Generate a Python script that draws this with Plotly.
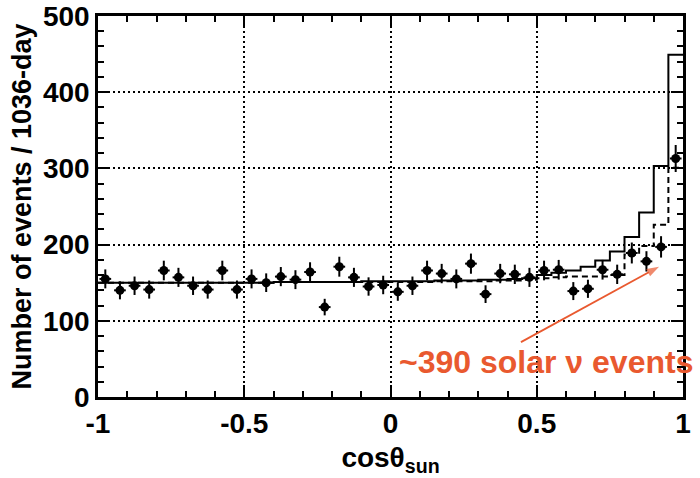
import numpy as np
import plotly.graph_objects as go

# Bin layout: 40 bins of cos(theta_sun) from -1 to 1
bin_edges = np.linspace(-1.0, 1.0, 41)
bin_centers = 0.5 * (bin_edges[:-1] + bin_edges[1:])

# Observed events per bin (points)
counts = [155, 140, 146, 141, 166, 157, 146, 141, 166, 141,
          155, 150, 158, 154, 164, 118, 171, 157, 145, 147,
          138, 146, 166, 162, 155, 175, 135, 162, 161, 157,
          166, 167, 139, 142, 167, 161, 189, 178, 197, 313]

# Expectation: background + solar (solid histogram)
solid_hist = [150, 150, 150, 150, 150, 150, 150, 150, 150, 150,
              150, 150, 151, 151, 151, 151, 151, 151, 152, 152,
              152, 152, 152, 153, 153, 153, 154, 154, 155, 156,
              160, 163, 166, 171, 179, 191, 210, 242, 303, 449]

# Alternative expectation (dashed histogram)
dashed_hist = [150, 150, 150, 150, 150, 150, 150, 150, 150, 150,
               150, 150, 151, 151, 151, 151, 151, 151, 151, 151,
               151, 151, 151, 152, 152, 152, 152, 153, 153, 154,
               156, 157, 158, 158, 158, 160, 187, 198, 226, 301]

x_ticks = [-1, -0.5, 0, 0.5, 1]
x_ticktext = ["-1", "-0.5", "0", "0.5", "1"]
y_ticks = [0, 100, 200, 300, 400, 500]
y_ticktext = ["0", "100", "200", "300", "400", "500"]

# Arrow (tail -> head) and label
arrow_x = [0.446, 0.918]
arrow_y = [72, 171]
annot_text = "~390 solar ν events"
annot_pos = (0.022, 46)

accent = "#E9592F"
font_family = "Liberation Sans, Arial, sans-serif"

errs = np.sqrt(np.array(counts, dtype=float))

fig = go.Figure()

fig.add_trace(go.Scatter(
    x=bin_edges, y=dashed_hist + [dashed_hist[-1]],
    mode="lines", line=dict(color="black", width=2, dash="6px,4px", shape="hv"),
    hoverinfo="skip", showlegend=False))

fig.add_trace(go.Scatter(
    x=bin_edges, y=solid_hist + [solid_hist[-1]],
    mode="lines", line=dict(color="black", width=2, shape="hv"),
    hoverinfo="skip", showlegend=False))

fig.add_trace(go.Scatter(
    x=bin_centers, y=counts, mode="markers",
    marker=dict(color="black", size=9),
    error_y=dict(type="data", array=errs, color="black", thickness=2, width=0),
    error_x=dict(type="constant", value=0.02, color="black", thickness=2, width=0),
    showlegend=False))

# orange arrow drawn as a line with an arrow marker at its head
fig.add_trace(go.Scatter(
    x=arrow_x, y=arrow_y, mode="lines+markers",
    line=dict(color=accent, width=1.8),
    marker=dict(symbol=["circle", "arrow"], size=[0, 13], color=accent,
                angleref="previous", line=dict(width=0)),
    hoverinfo="skip", showlegend=False, cliponaxis=False))

axis_common = dict(
    showline=True, linecolor="black", linewidth=2.5, mirror="allticks",
    ticks="inside", ticklen=12, tickwidth=2, tickcolor="black",
    showgrid=True, gridcolor="black", gridwidth=2, griddash="2px,3px",
    zeroline=False,
    tickfont=dict(family=font_family, size=28, color="black", weight="bold"),
)

fig.update_xaxes(
    range=[-1, 1], tickvals=x_ticks, ticktext=x_ticktext,
    minor=dict(dtick=0.1, ticklen=6, tickwidth=2, tickcolor="black", ticks="inside", showgrid=False),
    title=dict(text="cosθ<sub>sun</sub>", font=dict(family=font_family, size=28, color="black", weight="bold"), standoff=10),
    **axis_common)
fig.update_yaxes(
    range=[0, 500], tickvals=y_ticks, ticktext=y_ticktext,
    minor=dict(dtick=20, ticklen=6, tickwidth=2, tickcolor="black", ticks="inside", showgrid=False),
    title=dict(text="Number of events / 1036-day", font=dict(family=font_family, size=27, color="black", weight="bold"), standoff=4),
    **axis_common)

fig.add_annotation(
    x=annot_pos[0], y=annot_pos[1], xref="x", yref="y", xanchor="left", yanchor="middle",
    text=annot_text, showarrow=False,
    font=dict(family=font_family, size=32, color=accent, weight="bold"))

fig.update_layout(
    width=700, height=478,
    margin=dict(l=98, r=17, t=16, b=81, autoexpand=False),
    paper_bgcolor="white", plot_bgcolor="white",
)

fig.write_html("out.html")
